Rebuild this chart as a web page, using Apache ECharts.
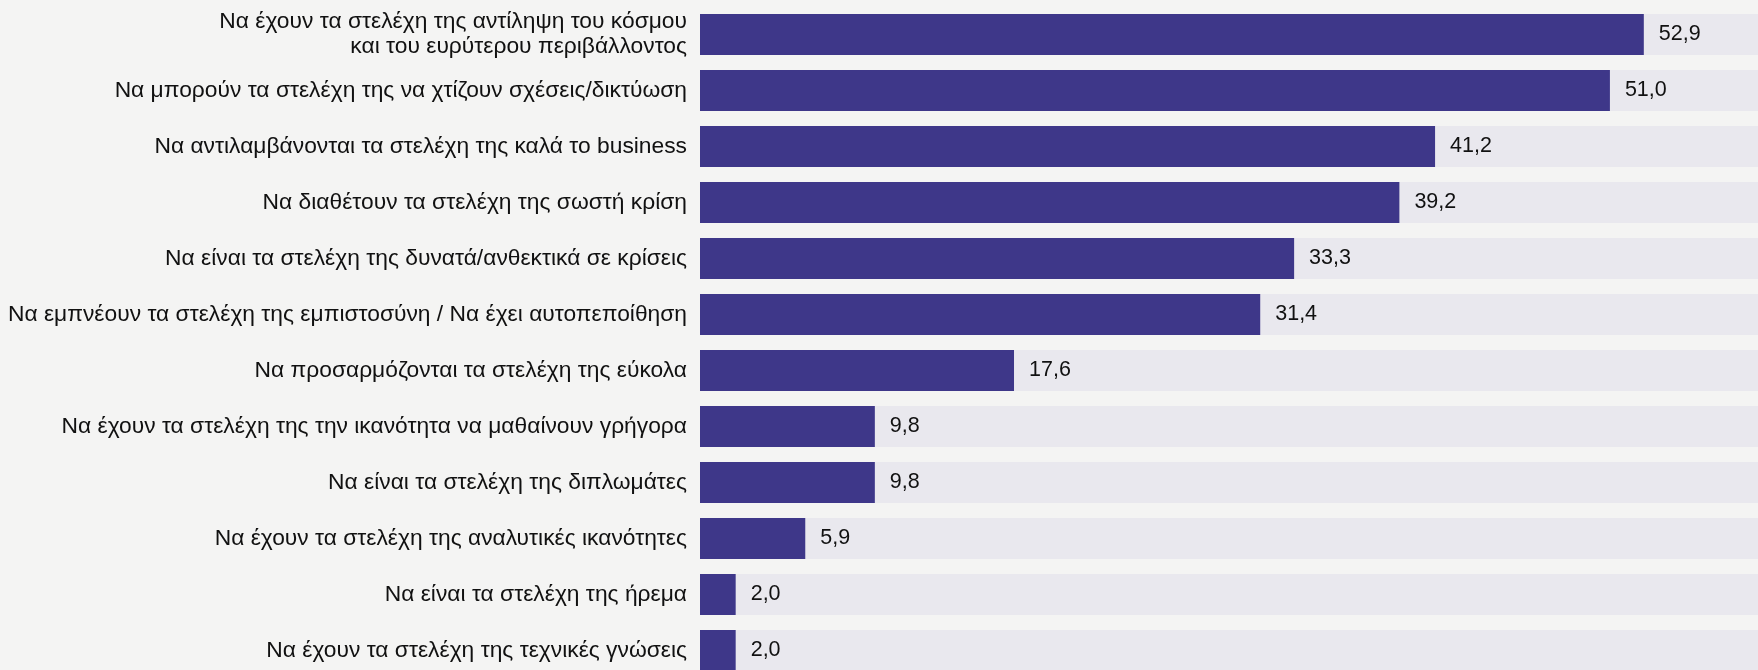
<!DOCTYPE html>
<html><head><meta charset="utf-8">
<script src="https://cdn.jsdelivr.net/npm/echarts@6/dist/echarts.min.js"></script>
<style>html,body{margin:0;padding:0;background:#f4f4f3;}#c{width:1758px;height:670px;}</style>
</head><body><div id="c"></div>
<script>
const categories = [
  "Να έχουν τα στελέχη της αντίληψη του κόσμου\nκαι του ευρύτερου περιβάλλοντος",
  "Να μπορούν τα στελέχη της να χτίζουν σχέσεις/δικτύωση",
  "Να αντιλαμβάνονται τα στελέχη της καλά το business",
  "Να διαθέτουν τα στελέχη της σωστή κρίση",
  "Να είναι τα στελέχη της δυνατά/ανθεκτικά σε κρίσεις",
  "Να εμπνέουν τα στελέχη της εμπιστοσύνη / Να έχει αυτοπεποίθηση",
  "Να προσαρμόζονται τα στελέχη της εύκολα",
  "Να έχουν τα στελέχη της την ικανότητα να μαθαίνουν γρήγορα",
  "Να είναι τα στελέχη της διπλωμάτες",
  "Να έχουν τα στελέχη της αναλυτικές ικανότητες",
  "Να είναι τα στελέχη της ήρεμα",
  "Να έχουν τα στελέχη της τεχνικές γνώσεις"
];
const values = [52.9, 51.0, 41.2, 39.2, 33.3, 31.4, 17.6, 9.8, 9.8, 5.9, 2.0, 2.0];

const chart = echarts.init(document.getElementById('c'));
chart.setOption({
  backgroundColor: '#f4f4f3',
  animation: false,
  grid: { left: 700, right: 0, top: 6.5, height: 672, outerBoundsMode: 'none', containLabel: false },
  xAxis: { type: 'value', min: 0, max: 59.3, show: false },
  yAxis: {
    type: 'category', data: categories, inverse: true,
    axisLine: { show: false }, axisTick: { show: false },
    axisLabel: { color: '#111', fontSize: 22.8, fontFamily: 'Liberation Sans, Arial, sans-serif', margin: 13, lineHeight: 25, align: 'right' }
  },
  series: [{
    type: 'bar', data: values, barWidth: 41,
    itemStyle: { color: '#3e3789' },
    showBackground: true,
    backgroundStyle: { color: '#e9e8ee' },
    label: {
      show: true, position: 'right', distance: 15, color: '#111', fontSize: 21.5,
      fontFamily: 'Liberation Sans, Arial, sans-serif',
      formatter: p => p.value.toFixed(1).replace('.', ',')
    }
  }]
});
</script></body></html>
